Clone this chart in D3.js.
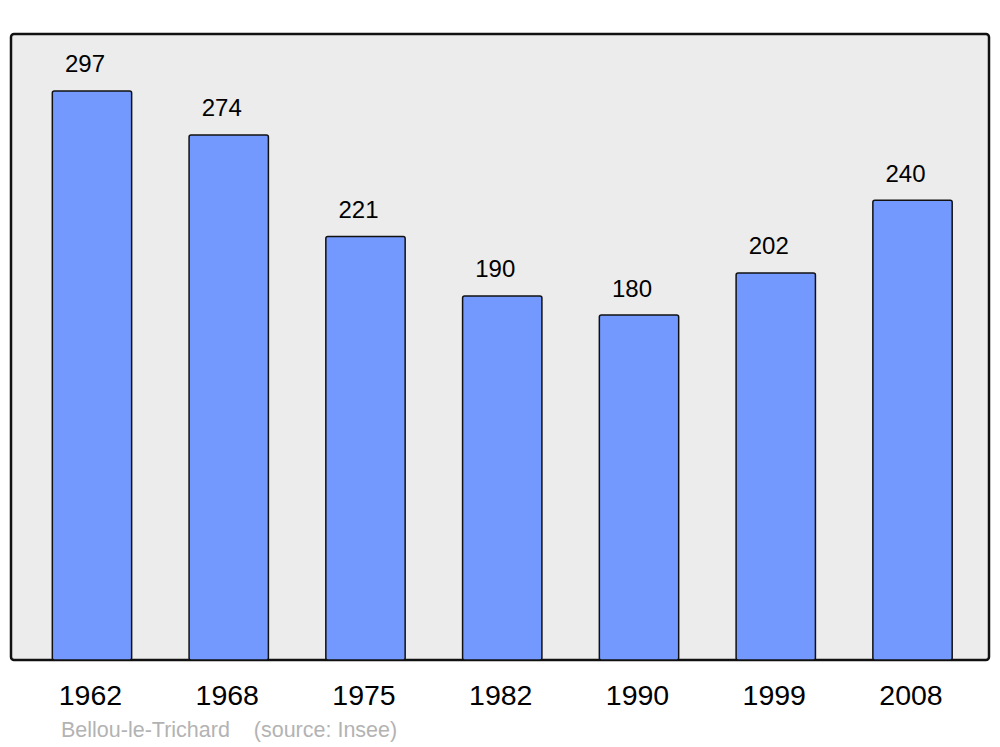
<!DOCTYPE html>
<html lang="fr">
<head>
<meta charset="UTF-8">
<title>Bellou-le-Trichard population</title>
<script src="https://d3js.org/d3.v7.min.js"></script>
<style>
  body { margin: 0; background: #fff; }
  text { font-family: "Liberation Sans", Arial, sans-serif; }
</style>
</head>
<body>
<svg id="chart" width="1000" height="747"></svg>
<script>
  const years = ["1962", "1968", "1975", "1982", "1990", "1999", "2008"];
  const population = [297, 274, 221, 190, 180, 202, 240];
  const commune = "Bellou-le-Trichard";
  const source = "(source: Insee)";

  const svg = d3.select("#chart");

  // frame of the plot
  const frame = { left: 11, right: 989, top: 34, bottom: 660 };

  svg.append("rect")
    .attr("x", frame.left)
    .attr("y", frame.top)
    .attr("width", frame.right - frame.left)
    .attr("height", frame.bottom - frame.top)
    .attr("rx", 3)
    .attr("fill", "#ececec")
    .attr("stroke", "#111")
    .attr("stroke-width", 2.5);

  const x = d3.scaleBand()
    .domain(years)
    .range([23.6, 980.9])
    .paddingInner(0.42)
    .paddingOuter(0.21);

  const y = d3.scaleLinear()
    .domain([0, d3.max(population) * 1.1])
    .range([frame.bottom, frame.top]);

  const data = years.map((yr, i) => ({ year: yr, value: population[i] }));

  svg.selectAll(".bar")
    .data(data)
    .enter().append("rect")
    .attr("class", "bar")
    .attr("x", d => x(d.year))
    .attr("y", d => y(d.value))
    .attr("width", x.bandwidth())
    .attr("height", d => frame.bottom - y(d.value))
    .attr("rx", 2)
    .attr("fill", "#7399ff")
    .attr("stroke", "#111")
    .attr("stroke-width", 1.5);

  svg.selectAll(".val")
    .data(data)
    .enter().append("text")
    .attr("class", "val")
    .attr("x", d => x(d.year) + x.bandwidth() / 2 - 7)
    .attr("y", d => y(d.value) - 18.5)
    .attr("text-anchor", "middle")
    .attr("font-size", 24)
    .attr("fill", "#000")
    .text(d => d.value);

  svg.selectAll(".year")
    .data(data)
    .enter().append("text")
    .attr("class", "year")
    .attr("x", d => x(d.year) + x.bandwidth() / 2 - 1.5)
    .attr("y", 705)
    .attr("text-anchor", "middle")
    .attr("font-size", 28.5)
    .attr("fill", "#000")
    .text(d => d.year);

  svg.append("text")
    .attr("x", 61)
    .attr("y", 737)
    .attr("font-size", 21.5)
    .attr("fill", "#b3b3b3")
    .attr("xml:space", "preserve")
    .text(commune + "    " + source);
</script>
</body>
</html>
